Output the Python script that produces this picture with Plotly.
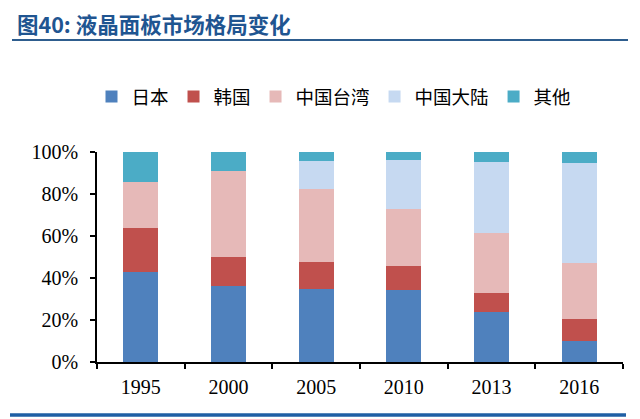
import plotly.graph_objects as go

years = ["1995", "2000", "2005", "2010", "2013", "2016"]
japan = [42.9, 36.3, 34.8, 34.5, 23.6, 10.2]
korea = [21.1, 13.7, 12.8, 11.4, 9.4, 10.5]
taiwan = [21.7, 41.0, 34.8, 27.0, 28.6, 26.4]
mainland = [0.0, 0.0, 13.3, 23.4, 33.8, 47.5]
others = [14.3, 9.0, 4.3, 3.7, 4.6, 5.4]

names = ["日本", "韩国", "中国台湾", "中国大陆", "其他"]
colors = ["#4f81bd", "#c0504d", "#e6b9b8", "#c6d9f1", "#4bacc6"]

# the page body adds an 8px margin, so the figure is drawn 8px smaller/shifted
OFF = 8
W, H = 640 - OFF, 419 - OFF
L, R, T, B = 97 - OFF, 17, 152 - OFF, 57


def px_x(p):
    return (p - OFF - L) / (W - L - R)


def px_y(p):
    return (H - B - (p - OFF)) / (H - T - B)


fig = go.Figure()
for name, vals, c in zip(names, [japan, korea, taiwan, mainland, others], colors):
    fig.add_trace(go.Bar(x=years, y=vals, name=name, marker_color=c, marker_line_width=0))

fig.update_layout(
    width=W, height=H,
    margin=dict(l=L, r=R, t=T, b=B, autoexpand=False),
    barmode="stack", bargap=0.6,
    plot_bgcolor="white", paper_bgcolor="white",
    title=dict(text="<b>图40: 液晶面板市场格局变化</b>", x=(17 - OFF) / W, xanchor="left",
               y=1 - (25 - OFF) / H, yanchor="middle", xref="container", yref="container",
               font=dict(family="Noto Sans CJK SC", size=21.5, color="#1f5591")),
    legend=dict(orientation="h", x=px_x(334), xanchor="center", y=px_y(97), yanchor="middle",
                traceorder="normal", font=dict(family="Noto Sans CJK SC", size=18.5, color="black"),
                itemwidth=30),
    font=dict(family="Liberation Serif", size=20, color="black"),
    showlegend=True,
)
fig.update_xaxes(showline=True, linecolor="black", linewidth=1.5, ticks="outside",
                 tickson="boundaries", ticklen=5, tickcolor="black", tickwidth=1.5,
                 ticklabelstandoff=6)
fig.update_yaxes(range=[0, 100], dtick=20, ticksuffix="%", showgrid=False, zeroline=False,
                 showline=True, linecolor="black", linewidth=1.5, ticks="outside",
                 ticklen=5, tickcolor="black", tickwidth=1.5, ticklabelstandoff=8)

fig.add_shape(type="line", xref="paper", yref="paper", x0=px_x(12), x1=px_x(628),
              y0=px_y(40), y1=px_y(40), line=dict(color="#2e5d8e", width=2))
fig.add_shape(type="line", xref="paper", yref="paper", x0=px_x(10), x1=px_x(626),
              y0=px_y(415), y1=px_y(415), line=dict(color="#1f5fa5", width=3.5))

fig.write_html("out.html")
